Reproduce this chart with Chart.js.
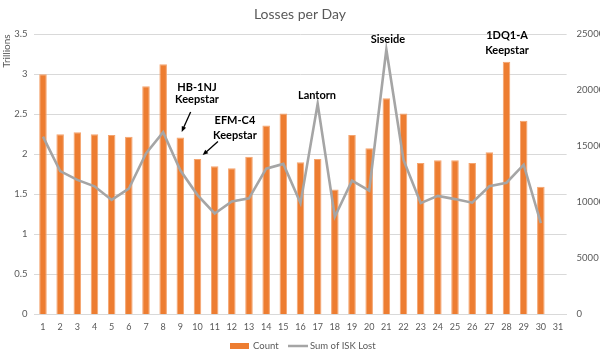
<!DOCTYPE html>
<html><head><meta charset="utf-8">
<script src="https://cdn.jsdelivr.net/npm/chart.js@4"></script>
<style>html,body{margin:0;padding:0;background:#fff}</style>
</head><body>
<canvas id="c" width="600" height="356"></canvas>
<script>
const days = ['1','2','3','4','5','6','7','8','9','10','11','12','13','14','15','16','17','18','19','20','21','22','23','24','25','26','27','28','29','30','31'];
const countValues = [21430,16070,16250,16070,16000,15860,20360,22320,15790,13860,13210,13040,14070,16860,17930,13570,13860,11140,16000,14820,19290,17930,13500,13750,13750,13500,14460,22540,17290,11390];
const iskTrillions = [2.22,1.79,1.68,1.60,1.43,1.57,2.01,2.275,1.80,1.49,1.26,1.41,1.45,1.82,1.88,1.39,2.63,1.22,1.67,1.545,3.31,1.93,1.39,1.48,1.44,1.395,1.60,1.645,1.87,1.14];
const leftTicks = [0,0.5,1,1.5,2,2.5,3,3.5];
const rightTicks = [0,5000,10000,15000,20000,25000];
const seriesNames = ['Count','Sum of ISK Lost'];
const annotations = [
  {lines:['HB-1NJ','Keepstar'], x:8.97, y:[2.84,2.68], arrow:[8.60,2.53,8.08,2.28]},
  {lines:['EFM-C4','Keepstar'], x:11.18, y:[2.42,2.24], arrow:[10.19,2.16,9.30,1.99]},
  {lines:['Lantorn'], x:15.96, y:[2.74]},
  {lines:['Siseide'], x:20.09, y:[3.43]},
  {lines:['1DQ1-A','Keepstar'], x:27.03, y:[3.49,3.30]}
];

const FONT = 'Lato, "Open Sans", sans-serif';
const GREY_TXT = '#595959';

const annotationPlugin = {
  id: 'ann',
  afterDatasetsDraw(chart) {
    const ctx = chart.ctx, xs = chart.scales.x, ys = chart.scales.y;
    ctx.save();
    ctx.fillStyle = '#000'; ctx.strokeStyle = '#000';
    ctx.font = 'bold 11px ' + FONT;
    ctx.textAlign = 'center'; ctx.textBaseline = 'middle';
    annotations.forEach(a => {
      const px = xs.getPixelForValue(a.x);
      a.lines.forEach((t, i) => ctx.fillText(t, px, ys.getPixelForValue(a.y[i])));
      if (a.arrow) {
        const x1 = xs.getPixelForValue(a.arrow[0]), y1 = ys.getPixelForValue(a.arrow[1]);
        const x2 = xs.getPixelForValue(a.arrow[2]), y2 = ys.getPixelForValue(a.arrow[3]);
        const ang = Math.atan2(y2 - y1, x2 - x1);
        const hl = 6;
        ctx.lineWidth = 1.3;
        ctx.beginPath(); ctx.moveTo(x1, y1);
        ctx.lineTo(x2 - Math.cos(ang) * hl * 0.8, y2 - Math.sin(ang) * hl * 0.8); ctx.stroke();
        ctx.beginPath(); ctx.moveTo(x2, y2);
        ctx.lineTo(x2 - hl * Math.cos(ang - 0.4), y2 - hl * Math.sin(ang - 0.4));
        ctx.lineTo(x2 - hl * Math.cos(ang + 0.4), y2 - hl * Math.sin(ang + 0.4));
        ctx.closePath(); ctx.fill();
      }
    });
    ctx.restore();
  }
};

const legendPlugin = {
  id: 'customLegend',
  afterDraw(chart) {
    const ctx = chart.ctx;
    ctx.save();
    ctx.font = '9.5px ' + FONT;
    ctx.fillStyle = GREY_TXT; ctx.textBaseline = 'middle'; ctx.textAlign = 'left';
    const y = 346;
    ctx.fillStyle = '#ED7D31';
    ctx.fillRect(230, 343, 19, 6);
    ctx.fillStyle = GREY_TXT;
    ctx.fillText(seriesNames[0], 253, y);
    ctx.strokeStyle = '#A5A5A5'; ctx.lineWidth = 2.5;
    ctx.beginPath(); ctx.moveTo(288, y); ctx.lineTo(308, y); ctx.stroke();
    ctx.fillText(seriesNames[1], 310, y);
    ctx.restore();
  }
};

new Chart(document.getElementById('c'), {
  data: {
    labels: days,
    datasets: [
      {type:'bar', label: seriesNames[0], data: countValues, yAxisID:'y1', backgroundColor:'#ED7D31', borderColor:'#F4A46E', borderWidth:{left:1,right:1,top:1,bottom:0}, barPercentage:0.44, categoryPercentage:1, order:2},
      {type:'line', label: seriesNames[1], data: iskTrillions, yAxisID:'y', borderColor:'#A5A5A5', borderWidth:2.6, pointRadius:0, tension:0, fill:false, order:1}
    ]
  },
  options: {
    responsive:false, animation:false, devicePixelRatio:1,
    layout:{padding:{left:0,right:0,top:0,bottom:23.7}},
    plugins:{
      legend:{display:false}, tooltip:{enabled:false},
      title:{display:true, text:'Losses per Day', color:GREY_TXT, font:{family:FONT, size:14, weight:'normal'}, padding:{top:5.6, bottom:11.9}}
    },
    scales:{
      x:{type:'category', offset:true, grid:{display:false, drawTicks:false}, border:{display:true, color:'#D9D9D9'},
         ticks:{color:GREY_TXT, font:{family:FONT, size:9}, padding:7, maxRotation:0, autoSkip:false},
         afterFit(s){ s.height = 18; }},
      y:{position:'left', min:0, max:3.5, afterBuildTicks(s){ s.ticks = leftTicks.map(v=>({value:v})); },
         grid:{color:'#D9D9D9', drawTicks:false}, border:{display:false},
         ticks:{color:GREY_TXT, font:{family:FONT, size:9.5}, padding:7, callback:v=>String(v)},
         title:{display:true, text:'Trillions', align:'end', color:GREY_TXT, font:{family:FONT, size:10}, padding:{top:1,bottom:0}},
         afterFit(s){ s.width = 34.4; }},
      y1:{position:'right', min:0, max:25000, afterBuildTicks(s){ s.ticks = rightTicks.map(v=>({value:v})); },
         grid:{display:false, drawTicks:false}, border:{display:false},
         ticks:{color:GREY_TXT, font:{family:FONT, size:9.5}, padding:10, callback:v=>String(v)},
         afterFit(s){ s.width = 33.4; }}
    }
  },
  plugins:[annotationPlugin, legendPlugin]
});
</script>
</body></html>
